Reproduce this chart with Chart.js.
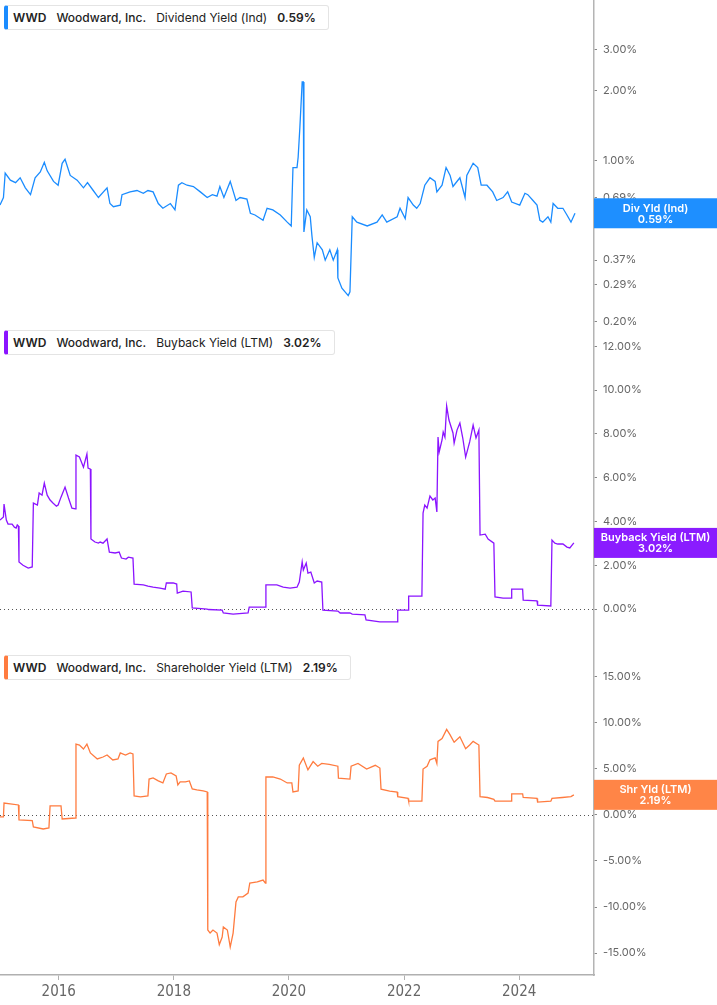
<!DOCTYPE html>
<html>
<head>
<meta charset="utf-8">
<script src="https://cdn.jsdelivr.net/npm/chart.js@4.4.1/dist/chart.umd.min.js"></script>
<style>
  body { margin: 0; background: #fff; }
  #wrap { position: relative; width: 717px; height: 1005px; overflow: hidden; }
  canvas { position: absolute; left: 0; }
  .legend {
    position: absolute; left: 4px; height: 25px; box-sizing: border-box;
    border: 1px solid #e4e4e4; border-left: 4px solid #1a8cff; border-radius: 3px;
    background: #fff; font: 400 12px Inter, sans-serif; color: #222;
    line-height: 23px; padding: 0 12px 0 5px; white-space: nowrap; z-index: 2;
  }
  .legend b { font-weight: 600; }
  .legend span { margin-right: 10px; }
  .legend .co { font-weight: 500; }
</style>
</head>
<body>
<div id="wrap">
  <canvas id="divChart" width="717" height="325" style="top:0"></canvas>
  <canvas id="buyChart" width="717" height="325" style="top:325px"></canvas>
  <canvas id="shrChart" width="717" height="355" style="top:650px"></canvas>

  <div class="legend" style="top:5px;border-left-color:#1a8cff">
    <span><b>WWD</b></span><span class="co">Woodward, Inc.</span><span>Dividend Yield (Ind)</span><b>0.59%</b>
  </div>
  <div class="legend" style="top:330px;border-left-color:#8b14ff">
    <span><b>WWD</b></span><span class="co">Woodward, Inc.</span><span>Buyback Yield (LTM)</span><b>3.02%</b>
  </div>
  <div class="legend" style="top:655px;border-left-color:#ff7b3f">
    <span><b>WWD</b></span><span class="co">Woodward, Inc.</span><span>Shareholder Yield (LTM)</span><b>2.19%</b>
  </div>
</div>

<script>
// x axis range (decimal years) and year labels
const xMin = 2014.98;
const xMax = 2025.30;
const yearTicks = [2016, 2018, 2020, 2022, 2024];

// Dividend Yield (Ind), %
const divDates = [2014.98, 2015.04, 2015.07, 2015.16, 2015.25, 2015.33, 2015.42, 2015.51, 2015.59, 2015.68,
  2015.75, 2015.80, 2015.91, 2015.99, 2016.06, 2016.11, 2016.20, 2016.32, 2016.43, 2016.50,
  2016.60, 2016.69, 2016.84, 2016.89, 2016.95, 2017.07, 2017.10, 2017.24, 2017.36, 2017.47,
  2017.55, 2017.64, 2017.73, 2017.81, 2017.94, 2018.02, 2018.08, 2018.14, 2018.23, 2018.34,
  2018.46, 2018.58, 2018.67, 2018.75, 2018.80, 2018.87, 2018.98, 2019.08, 2019.15, 2019.27,
  2019.33, 2019.41, 2019.55, 2019.62, 2019.72, 2019.85, 2019.97, 2020.04, 2020.07, 2020.14,
  2020.16, 2020.19, 2020.23, 2020.25, 2020.26, 2020.31, 2020.37, 2020.40, 2020.44, 2020.49,
  2020.58, 2020.63, 2020.71, 2020.77, 2020.84, 2020.85, 2020.92, 2021.03, 2021.06, 2021.10,
  2021.18, 2021.36, 2021.53, 2021.62, 2021.70, 2021.88, 2021.93, 2022.02, 2022.07, 2022.16,
  2022.22, 2022.28, 2022.36, 2022.45, 2022.54, 2022.57, 2022.66, 2022.73, 2022.80, 2022.85,
  2022.97, 2023.06, 2023.09, 2023.20, 2023.28, 2023.34, 2023.44, 2023.54, 2023.61, 2023.72,
  2023.80, 2023.87, 2024.01, 2024.10, 2024.15, 2024.24, 2024.31, 2024.36, 2024.41, 2024.50,
  2024.55, 2024.59, 2024.67, 2024.76, 2024.83, 2024.90, 2024.97];
const divValues = [0.64, 0.69, 0.88, 0.82, 0.80, 0.84, 0.76, 0.71, 0.84, 0.89,
  0.98, 0.90, 0.81, 0.78, 0.97, 1.01, 0.86, 0.82, 0.76, 0.80,
  0.74, 0.69, 0.76, 0.65, 0.63, 0.64, 0.71, 0.73, 0.74, 0.72,
  0.74, 0.73, 0.65, 0.62, 0.65, 0.61, 0.78, 0.80, 0.78, 0.77,
  0.73, 0.69, 0.71, 0.70, 0.77, 0.69, 0.81, 0.67, 0.69, 0.68,
  0.59, 0.58, 0.55, 0.62, 0.61, 0.58, 0.54, 0.52, 0.93, 0.93,
  1.03, 1.39, 2.18, 2.18, 0.49, 0.61, 0.57, 0.47, 0.38, 0.44,
  0.41, 0.37, 0.41, 0.37, 0.41, 0.31, 0.28, 0.26, 0.27, 0.57,
  0.54, 0.52, 0.54, 0.58, 0.54, 0.57, 0.62, 0.56, 0.69, 0.64,
  0.62, 0.65, 0.78, 0.84, 0.81, 0.73, 0.78, 0.93, 0.86, 0.77,
  0.84, 0.69, 0.86, 0.97, 0.93, 0.78, 0.78, 0.73, 0.67, 0.69,
  0.73, 0.66, 0.64, 0.72, 0.71, 0.67, 0.64, 0.55, 0.54, 0.57,
  0.54, 0.65, 0.62, 0.62, 0.58, 0.54, 0.59];
const divTicks = [0.2, 0.29, 0.37, 0.69, 1, 2, 3];

// Buyback Yield (LTM), %
const buyDates = [2014.98, 2015.04, 2015.05, 2015.09, 2015.12, 2015.19, 2015.23, 2015.26, 2015.28, 2015.30,
  2015.31, 2015.38, 2015.47, 2015.54, 2015.56, 2015.63, 2015.66, 2015.71, 2015.75, 2015.80,
  2015.85, 2015.90, 2015.96, 2015.99, 2016.04, 2016.11, 2016.17, 2016.23, 2016.29, 2016.30,
  2016.36, 2016.43, 2016.49, 2016.51, 2016.55, 2016.56, 2016.63, 2016.69, 2016.72, 2016.77,
  2016.84, 2016.88, 2016.98, 2017.05, 2017.09, 2017.17, 2017.21, 2017.29, 2017.31, 2017.47,
  2017.55, 2017.64, 2017.76, 2017.85, 2017.87, 2017.99, 2018.05, 2018.06, 2018.16, 2018.30,
  2018.32, 2018.58, 2018.60, 2018.84, 2018.86, 2019.03, 2019.29, 2019.31, 2019.59, 2019.60,
  2019.79, 2019.90, 2020.02, 2020.14, 2020.18, 2020.23, 2020.25, 2020.30, 2020.33, 2020.38,
  2020.44, 2020.49, 2020.57, 2020.59, 2020.85, 2020.89, 2021.06, 2021.10, 2021.32, 2021.34,
  2021.58, 2021.88, 2021.89, 2022.07, 2022.08, 2022.31, 2022.33, 2022.36, 2022.40, 2022.45,
  2022.50, 2022.54, 2022.57, 2022.59, 2022.61, 2022.66, 2022.68, 2022.71, 2022.74, 2022.78,
  2022.85, 2022.87, 2022.92, 2022.97, 2023.02, 2023.07, 2023.14, 2023.20, 2023.25, 2023.30,
  2023.32, 2023.41, 2023.46, 2023.56, 2023.58, 2023.72, 2023.86, 2023.87, 2024.06, 2024.07,
  2024.31, 2024.32, 2024.55, 2024.57, 2024.62, 2024.67, 2024.76, 2024.83, 2024.88, 2024.95];
const buyValues = [4.06, 4.20, 4.79, 4.06, 3.88, 3.88, 3.74, 3.70, 3.84, 3.79,
  2.15, 2.00, 1.87, 1.92, 4.84, 4.75, 5.30, 5.20, 5.75, 5.20,
  4.98, 4.84, 4.70, 4.75, 5.11, 5.57, 5.07, 4.61, 4.57, 7.03,
  6.94, 6.48, 7.08, 6.44, 6.39, 3.20, 3.06, 3.01, 3.06, 3.01,
  3.20, 2.60, 2.56, 2.60, 2.33, 2.28, 2.37, 2.33, 1.14, 1.10,
  1.05, 1.00, 0.96, 0.91, 1.19, 1.19, 1.14, 0.73, 0.82, 0.78,
  0.05, 0.00, -0.02, -0.05, -0.18, -0.23, -0.18, 0.09, 0.09, 1.10,
  1.10, 1.00, 0.96, 1.00, 1.23, 2.15, 1.78, 2.10, 1.64, 1.69,
  1.19, 1.28, 1.23, -0.05, -0.09, -0.18, -0.18, -0.23, -0.27, -0.50,
  -0.59, -0.59, -0.05, -0.05, 0.59, 0.59, 4.38, 4.75, 4.61, 5.16,
  4.98, 5.07, 4.43, 7.85, 7.17, 7.72, 8.08, 7.85, 9.27, 8.63,
  8.04, 7.58, 8.17, 8.49, 7.81, 6.94, 7.63, 8.40, 7.81, 8.17,
  3.38, 3.42, 3.20, 3.01, 0.55, 0.50, 0.50, 0.91, 0.91, 0.41,
  0.37, 0.18, 0.14, 3.15, 3.01, 2.97, 2.97, 2.83, 2.79, 3.02];
const buyTicks = [0, 2, 4, 6, 8, 10, 12];

// Shareholder Yield (LTM), %
const shrDates = [2014.98, 2015.04, 2015.05, 2015.30, 2015.31, 2015.54, 2015.56, 2015.73, 2015.83, 2015.85,
  2016.04, 2016.06, 2016.29, 2016.30, 2016.36, 2016.43, 2016.49, 2016.55, 2016.67, 2016.77,
  2016.84, 2016.94, 2017.03, 2017.07, 2017.16, 2017.24, 2017.29, 2017.31, 2017.42, 2017.55,
  2017.57, 2017.64, 2017.73, 2017.81, 2017.87, 2017.95, 2018.04, 2018.07, 2018.11, 2018.20,
  2018.27, 2018.32, 2018.40, 2018.51, 2018.58, 2018.59, 2018.63, 2018.68, 2018.75, 2018.79,
  2018.84, 2018.86, 2018.93, 2018.98, 2019.03, 2019.08, 2019.12, 2019.20, 2019.29, 2019.32,
  2019.45, 2019.55, 2019.59, 2019.60, 2019.72, 2019.85, 2019.97, 2020.05, 2020.07, 2020.16,
  2020.18, 2020.25, 2020.33, 2020.42, 2020.50, 2020.57, 2020.70, 2020.85, 2020.86, 2021.06,
  2021.08, 2021.20, 2021.35, 2021.50, 2021.58, 2021.60, 2021.75, 2021.88, 2021.89, 2022.07,
  2022.08, 2022.31, 2022.33, 2022.40, 2022.45, 2022.54, 2022.57, 2022.59, 2022.66, 2022.74,
  2022.80, 2022.87, 2022.97, 2023.07, 2023.14, 2023.20, 2023.30, 2023.32, 2023.45, 2023.56,
  2023.58, 2023.86, 2023.87, 2024.06, 2024.07, 2024.31, 2024.32, 2024.55, 2024.57, 2024.75,
  2024.90, 2024.95];
const shrValues = [-0.20, -0.20, 1.30, 1.09, -0.54, -0.60, -1.30, -1.52, -1.41, 0.98,
  0.98, -0.43, -0.33, 7.70, 7.60, 7.17, 7.70, 6.74, 6.09, 6.30,
  6.52, 5.98, 6.09, 6.74, 6.52, 6.74, 6.63, 2.07, 1.96, 2.07,
  3.91, 4.02, 3.70, 3.48, 4.46, 4.57, 4.24, 3.26, 3.59, 3.59,
  3.70, 2.83, 2.72, 2.61, 2.50, -12.50, -12.83, -12.50, -12.83, -14.10,
  -13.26, -12.17, -12.50, -14.35, -12.83, -9.46, -8.90, -8.90, -8.48, -7.39,
  -7.28, -7.07, -7.39, 4.13, 4.13, 3.91, 3.48, 3.48, 2.50, 2.61,
  5.40, 6.20, 4.90, 5.80, 5.30, 5.60, 5.50, 5.30, 4.00, 3.90,
  5.30, 5.60, 5.00, 5.40, 5.10, 2.80, 2.60, 2.50, 2.00, 1.80,
  1.50, 1.50, 5.00, 5.30, 6.00, 6.20, 5.60, 8.00, 8.30, 9.30,
  8.70, 7.90, 8.50, 7.20, 7.60, 8.00, 7.60, 2.00, 1.90, 1.70,
  1.50, 1.50, 2.30, 2.30, 1.90, 1.80, 1.40, 1.50, 1.80, 1.90,
  2.00, 2.19];
const shrTicks = [-15, -10, -5, 0, 5, 10, 15];

const pct = (v) => Number(v).toFixed(2) + "%";
const toPoints = (dates, vals) => dates.map((d, i) => ({ x: d, y: vals[i] }));

// colored value box on the right axis at the last value
const lastBoxPlugin = {
  id: "lastBox",
  afterDraw(chart, args, opts) {
    if (!opts || !opts.lines) return;
    const data = chart.data.datasets[0].data;
    const last = data[data.length - 1];
    const ys = chart.scales.y;
    const cy = ys.getPixelForValue(last.y);
    const ctx = chart.ctx;
    ctx.save();
    ctx.fillStyle = opts.color;
    ctx.fillRect(ys.left, cy - 15, chart.width - ys.left, 30);
    ctx.fillStyle = "#fff";
    ctx.font = "600 11px Inter, sans-serif";
    ctx.textAlign = "center";
    ctx.textBaseline = "middle";
    const cx = (ys.left + chart.width) / 2;
    ctx.fillText(opts.lines[0], cx, cy - 5);
    ctx.fillText(opts.lines[1], cx, cy + 6);
    ctx.restore();
  },
};

// dotted zero line
const zeroLinePlugin = {
  id: "zeroLine",
  beforeDatasetsDraw(chart, args, opts) {
    if (!opts || !opts.show) return;
    const y = Math.round(chart.scales.y.getPixelForValue(0)) + 0.5;
    const ctx = chart.ctx;
    ctx.save();
    ctx.strokeStyle = "#555";
    ctx.lineWidth = 1;
    ctx.setLineDash([1, 3]);
    ctx.beginPath();
    ctx.moveTo(chart.chartArea.left, y);
    ctx.lineTo(chart.chartArea.right, y);
    ctx.stroke();
    ctx.restore();
  },
};

function makeChart(id, cfg) {
  const ctx = document.getElementById(id).getContext("2d");
  const isBottom = !!cfg.bottom;
  return new Chart(ctx, {
    type: "line",
    data: {
      datasets: [{
        data: cfg.points,
        borderColor: cfg.lineColor,
        borderWidth: 1.3,
        pointRadius: 0,
        tension: 0,
        fill: false,
      }],
    },
    options: {
      responsive: false,
      animation: false,
      layout: { padding: 0 },
      plugins: {
        legend: { display: false },
        tooltip: { enabled: false },
        lastBox: { color: cfg.boxColor, lines: cfg.boxLines },
        zeroLine: { show: cfg.zero },
      },
      scales: {
        x: {
          type: "linear",
          min: xMin,
          max: xMax,
          afterBuildTicks: (scale) => {
            scale.ticks = yearTicks.map((v) => ({ value: v }));
          },
          afterFit: (scale) => {
            scale.height = isBottom ? 30 : 0;
            scale.paddingLeft = 0;
            scale.paddingRight = 0;
          },
          border: { display: true, color: isBottom ? "#b0b0b0" : "#d6d6d6", width: isBottom ? 1.5 : 1 },
          grid: { display: isBottom, drawOnChartArea: false, tickLength: 5, color: "#b0b0b0" },
          ticks: {
            display: isBottom,
            color: "#666",
            padding: 3,
            maxRotation: 0,
            font: { family: "'Liberation Sans Narrow', 'DejaVu Sans Condensed', sans-serif", size: 15 },
            callback: (v) => String(v),
          },
        },
        y: {
          type: cfg.log ? "logarithmic" : "linear",
          position: "right",
          min: cfg.min,
          max: cfg.max,
          afterBuildTicks: (scale) => {
            scale.ticks = cfg.ticks.map((v) => ({ value: v }));
          },
          afterFit: (scale) => {
            scale.width = 123;
            scale.paddingTop = 0;
            scale.paddingBottom = 0;
          },
          border: { display: true, color: "#b4b4b4", width: 1.5 },
          grid: { drawOnChartArea: false, tickLength: 3, color: "#888" },
          ticks: {
            color: "#666",
            padding: 6,
            font: { family: "Inter, sans-serif", size: 11 },
            callback: (v) => pct(v),
          },
        },
      },
    },
    plugins: [lastBoxPlugin, zeroLinePlugin],
  });
}

makeChart("divChart", {
  points: toPoints(divDates, divValues),
  lineColor: "#1a8cff",
  boxColor: "#1e8fff",
  boxLines: ["Div Yld (Ind)", "0.59%"],
  log: true, min: 0.194, max: 4.93, ticks: divTicks, zero: false,
});
makeChart("buyChart", {
  points: toPoints(buyDates, buyValues),
  lineColor: "#8b14ff",
  boxColor: "#8a1cff",
  boxLines: ["Buyback Yield (LTM)", "3.02%"],
  min: -1.87, max: 12.97, ticks: buyTicks, zero: true,
});
makeChart("shrChart", {
  points: toPoints(shrDates, shrValues),
  lineColor: "#ff7b3f",
  boxColor: "#ff8547",
  boxLines: ["Shr Yld (LTM)", "2.19%"],
  min: -17.39, max: 17.93, ticks: shrTicks, zero: true, bottom: true,
});
</script>
</body>
</html>
